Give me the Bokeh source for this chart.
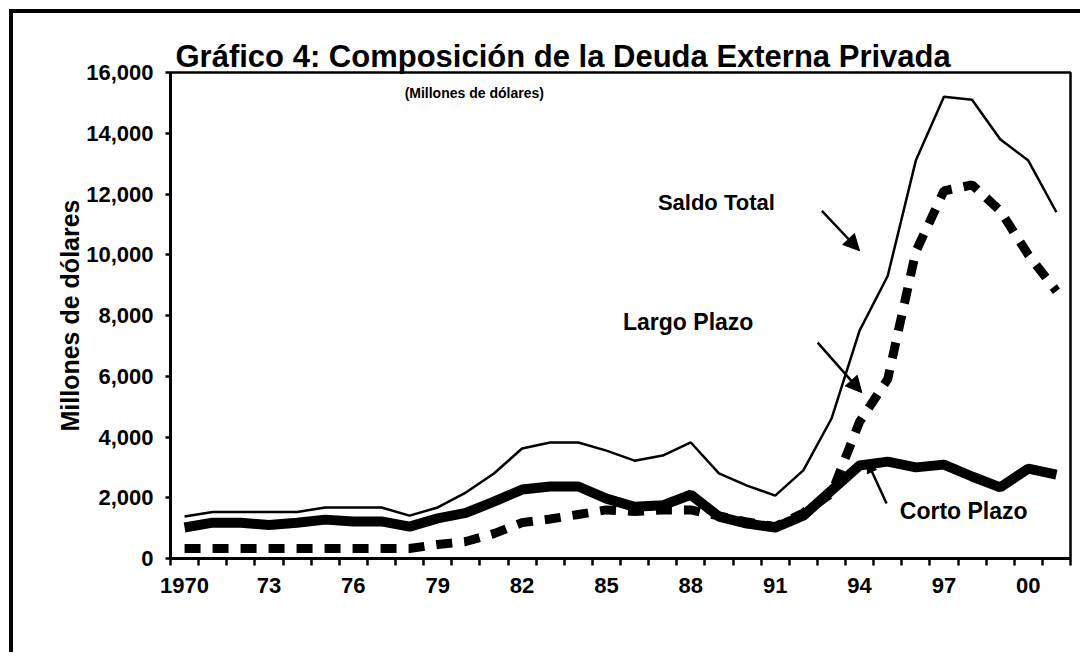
from bokeh.plotting import figure
from bokeh.models import FixedTicker, NumeralTickFormatter, Label, Arrow, NormalHead, Range1d
from bokeh.embed import file_html
from bokeh.resources import INLINE

# ---- data (millones de dólares) ----
years = list(range(1970, 2002))
saldo_total = [1380, 1530, 1530, 1530, 1530, 1680, 1680, 1680, 1410, 1680,
               2170, 2800, 3620, 3820, 3820, 3550, 3220, 3390, 3820, 2800,
               2400, 2070, 2900, 4600, 7500, 9300, 13100, 15200, 15100, 13800,
               13100, 11400]
largo_plazo = [330, 330, 330, 330, 330, 330, 330, 330, 330, 460,
               560, 820, 1180, 1300, 1450, 1600, 1550, 1600, 1600, 1400,
               1200, 1050, 1500, 2140, 4500, 5900, 10100, 12100, 12300, 11450,
               10000, 8800]
corto_plazo = [1020, 1180, 1180, 1100, 1180, 1280, 1220, 1220, 1050, 1320,
               1500, 1870, 2270, 2370, 2370, 1970, 1700, 1750, 2100, 1380,
               1150, 1020, 1410, 2240, 3060, 3190, 3000, 3090, 2700, 2340,
               2960, 2760]
label_years = [1970, 1973, 1976, 1979, 1982, 1985, 1988, 1991, 1994, 1997, 2000]
label_text = ["1970", "73", "76", "79", "82", "85", "88", "91", "94", "97", "00"]
y_ticks = [0, 2000, 4000, 6000, 8000, 10000, 12000, 14000, 16000]

FONT = "Liberation Sans"

p = figure(width=1071, height=643, output_backend="svg", toolbar_location=None,
           x_range=Range1d(1969.5, 2001.5), y_range=Range1d(0, 16000),
           min_border_left=157, min_border_right=14, min_border_top=59,
           min_border_bottom=98)
p.styles = {"border-left": "4px solid black", "border-top": "4px solid black",
            "margin-left": "9px", "margin-top": "9px"}
p.xgrid.visible = False
p.ygrid.visible = False
p.outline_line_color = "black"
p.outline_line_width = 2.5
p.background_fill_color = "white"
p.border_fill_color = "white"

# title
p.title.text = "Gráfico 4: Composición de la Deuda Externa Privada"
p.title.align = "left"
p.title.offset = 5
p.title.standoff = -2
p.title.text_font = FONT
p.title.text_font_style = "bold"
p.title.text_font_size = "31px"
p.title.text_color = "black"

# x axis: labels at category centres, ticks between categories
xa = p.xaxis[0]
xa.ticker = FixedTicker(ticks=label_years, minor_ticks=[y - 0.5 for y in years] + [years[-1] + 0.5])
xa.major_label_overrides = {yr: t for yr, t in zip(label_years, label_text)}
xa.axis_line_width = 3
xa.axis_line_color = "black"
xa.major_tick_line_color = None
xa.major_tick_out = 7
xa.major_tick_in = 0
xa.minor_tick_line_color = "black"
xa.minor_tick_line_width = 2.5
xa.minor_tick_out = 7
xa.minor_tick_in = 0
xa.major_label_standoff = 12
xa.major_label_text_font = FONT
xa.major_label_text_font_style = "bold"
xa.major_label_text_font_size = "22px"
xa.major_label_text_color = "black"

ya = p.yaxis[0]
ya.ticker = FixedTicker(ticks=y_ticks)
ya.formatter = NumeralTickFormatter(format="0,0")
ya.axis_line_width = 3
ya.axis_line_color = "black"
ya.major_tick_line_color = "black"
ya.major_tick_line_width = 2.5
ya.major_tick_out = 5
ya.major_tick_in = 0
ya.minor_tick_line_color = None
ya.major_label_standoff = 12
ya.major_label_text_font = FONT
ya.major_label_text_font_style = "bold"
ya.major_label_text_font_size = "22px"
ya.major_label_text_color = "black"
ya.axis_label = "Millones de dólares"
ya.axis_label_text_font = FONT
ya.axis_label_text_font_style = "bold"
ya.axis_label_text_font_size = "25px"
ya.axis_label_text_color = "black"
ya.axis_label_standoff = -1

# series
p.line(years, saldo_total, line_width=2.5, color="black")
p.line(years, corto_plazo, line_width=10, color="black")
p.line(years, largo_plazo, line_width=9, color="black", line_dash="16 12")

# texts
def lab(x, y, text, size, align="left", baseline="middle"):
    p.add_layout(Label(x=x, y=y, text=text, text_font=FONT, text_font_style="bold",
                       text_font_size=size, text_color="black", text_align=align,
                       text_baseline=baseline))

lab(1980.3, 15330, "(Millones de dólares)", "14px", align="center")
lab(1986.83, 11710, "Saldo Total", "22px")
lab(1985.59, 7796, "Largo  Plazo", "23px")
lab(1995.43, 1579, "Corto  Plazo", "23px")

# arrows
for xs, ys, xe, ye, hs in [(1992.66, 11447, 1994.0, 10132, 16),
                           (1992.51, 7105, 1994.08, 5460, 16),
                           (1994.96, 1809, 1994.29, 3158, 10)]:
    p.add_layout(Arrow(end=NormalHead(size=hs, fill_color="black", line_color="black"),
                       x_start=xs, y_start=ys, x_end=xe, y_end=ye,
                       line_width=2.5, line_color="black"))

open("out.html", "w").write(file_html(p, INLINE))
